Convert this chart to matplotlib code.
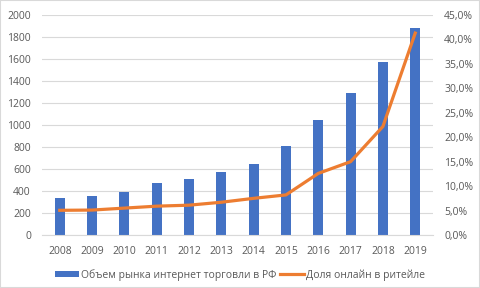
import matplotlib.pyplot as plt
from matplotlib.patches import Rectangle
from matplotlib.ticker import FuncFormatter

years = ['2008', '2009', '2010', '2011', '2012', '2013', '2014', '2015', '2016', '2017', '2018', '2019']
market = [336, 357, 394, 475, 509, 573, 645, 812, 1045, 1294, 1573, 1882]
share = [5.05, 5.1, 5.5, 5.9, 6.1, 6.7, 7.5, 8.2, 12.6, 15.0, 22.2, 41.3]

bar_label = 'Объем рынка интернет торговли в РФ'
line_label = 'Доля онлайн в ритейле'

plt.rcParams['font.family'] = ['Open Sans', 'DejaVu Sans']
grey = '#595959'

fig = plt.figure(figsize=(4.8, 2.88), dpi=100)
ax = fig.add_axes([42 / 480, 1 - 235 / 288, (433 - 42) / 480, 220 / 288])
ax2 = ax.twinx()

x = list(range(len(years)))
b = ax.bar(x, market, width=0.31, color='#4472C4', label=bar_label, zorder=2)
l, = ax2.plot(x, share, color='#ED7D31', lw=2.3, label=line_label, zorder=3)

ax.set_ylim(0, 2000)
ax.set_yticks(range(0, 2001, 200))
ax2.set_ylim(0, 45)
ax2.set_yticks(range(0, 46, 5))
ax2.yaxis.set_major_formatter(FuncFormatter(lambda v, p: f'{v:.1f}%'.replace('.', ',')))
ax.set_xlim(-0.55, len(years) - 0.45)
ax.set_xticks(x)
ax.set_xticklabels(years)

ax.grid(axis='y', color='#d9d9d9', lw=0.8, zorder=0)
ax.set_axisbelow(True)
for a in (ax, ax2):
    for s in a.spines.values():
        s.set_visible(False)
    a.tick_params(length=0, colors=grey, labelsize=7.5)
ax.spines['bottom'].set_visible(True)
ax.spines['bottom'].set_color('#d9d9d9')
ax.tick_params(axis='x', pad=8)
ax.tick_params(axis='y', pad=8)
ax2.tick_params(axis='y', pad=8)

fig.legend([b, l], [bar_label, line_label], loc='center', bbox_to_anchor=(0.5, 1 - 275 / 288),
           ncol=2, frameon=False, fontsize=7.5, labelcolor=grey, handlelength=2.3,
           handleheight=0.55, handletextpad=0.2, columnspacing=0.3)

fig.patches.append(Rectangle((0, 0), 1, 1, transform=fig.transFigure, fill=False,
                             edgecolor='#d9d9d9', lw=1.5))

fig.savefig('out.png', dpi=100)
